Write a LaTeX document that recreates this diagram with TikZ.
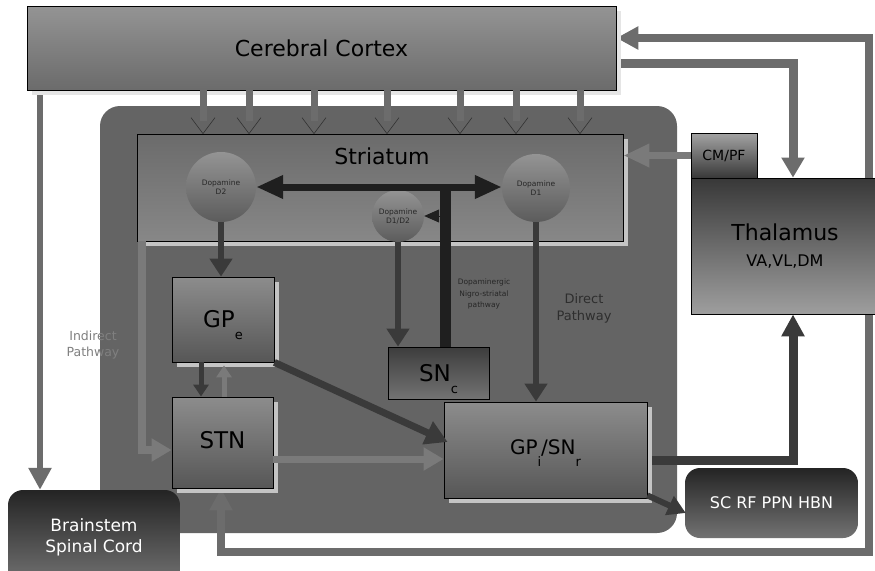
\documentclass[tikz,border=0pt]{standalone}
\usepackage{fontspec}
\setmainfont{DejaVu Sans}
\usetikzlibrary{arrows.meta,shadows,calc}
\pgfdeclarelayer{back}
\pgfdeclarelayer{mid}
\pgfsetlayers{back,mid,main}

\definecolor{panelgray}{HTML}{646464}
\definecolor{shadowgray}{HTML}{C4C4C4}
\definecolor{darkline}{HTML}{3A3A3A}
\definecolor{lightline}{HTML}{7A7A7A}
\definecolor{outerline}{HTML}{6C6C6C}
\definecolor{nearblack}{HTML}{1F1F1F}

\newcommand{\fsz}[2]{\fontsize{#1}{#2}\selectfont}
\newcommand{\lowsub}[1]{\smash{\raisebox{-12pt}{\fsz{13}{13}#1}}}

\begin{document}
\begin{tikzpicture}[x=1pt,y=-1pt,
  graybox/.style={draw=black, line width=0.8pt, inner sep=0pt,
    top color=black!45, bottom color=black!66,
    drop shadow={shadow xshift=5pt, shadow yshift=-5pt, fill=shadowgray, opacity=1}},
  plainbox/.style={draw=black, line width=0.8pt, inner sep=0pt},
  darkround/.style={draw=none, rounded corners=15pt, inner sep=0pt,
    top color=black!86, bottom color=black!55, text=white},
  receptor/.style={circle, draw=none, inner sep=0pt, top color=black!42, bottom color=black!64,
    text=black!85, align=center, font=\fsz{7.5}{9}},
  darkarrow/.style={draw=darkline, line width=6pt, -{Triangle[length=18pt,width=22pt]}},
  smalldark/.style={draw=darkline, line width=5pt, -{Triangle[length=12pt,width=15pt]}},
  lightarrow/.style={draw=lightline, line width=7pt, -{Triangle[length=20pt,width=22pt]}},
  smalllight/.style={draw=lightline, line width=5pt, -{Triangle[length=12pt,width=15pt]}},
  feedline/.style={draw=outerline, line width=8pt, line join=miter},
  vshaft/.style={draw=outerline, line width=7pt},
  vhead/.style={draw=black!80, line width=0.6pt},
  caption/.style={align=center, inner sep=0pt}
]
\useasboundingbox (0,0) rectangle (875,570);

% page and basal ganglia panel
\begin{pgfonlayer}{back}
  \fill[white] (0,0) rectangle (875,570);
  \fill[panelgray, rounded corners=20pt] (100,106) rectangle (677,533);
\end{pgfonlayer}

% cortex and thalamic structures
\node[plainbox, top color=black!42, bottom color=black!58,
  drop shadow={shadow xshift=5pt, shadow yshift=-5pt, fill=black!10, opacity=1},
  minimum width=589pt, minimum height=84pt] (cortex) at (321.5,48) {\fsz{22}{26}Cerebral Cortex};
\node[plainbox, top color=black!78, bottom color=black!38,
  minimum width=188pt, minimum height=136pt, align=center, font=\fsz{16}{26}] (thal) at (785,246)
  {{\fsz{22}{26}Thalamus}\\VA,VL,DM};
\node[plainbox, top color=black!36, bottom color=black!78,
  minimum width=66pt, minimum height=45pt] (cmpf) at (724,155.5) {\fsz{14}{16}CM/PF};

% striatum with its receptor populations
\node[plainbox, top color=black!58, bottom color=black!47,
  drop shadow={shadow xshift=5pt, shadow yshift=-5pt, fill=shadowgray, opacity=1},
  minimum width=486pt, minimum height=107pt] (striatum) at (380,187.5) {};
\node[caption] (striatumlabel) at (382,156) {\fsz{22}{26}Striatum};
\node[receptor, minimum size=70pt] (d2) at (221,187) {Dopamine\\D2};
\node[receptor, minimum size=68pt] (d1) at (536,188) {Dopamine\\D1};
\node[receptor, minimum size=52pt] (d12) at (398,216) {Dopamine\\D1/D2};

% nuclei
\node[graybox, minimum width=102pt, minimum height=85pt] (gpe) at (223,319.5)
  {\fsz{23}{26}GP\lowsub{e}};
\node[graybox, minimum width=101pt, minimum height=91pt] (stn) at (222.5,442.5)
  {\raisebox{5pt}{\fsz{23}{26}STN}};
\node[plainbox, top color=black!76, bottom color=black!55,
  minimum width=101pt, minimum height=52pt] (snc) at (438.5,373)
  {\raisebox{-1pt}{\fsz{23}{26}SN\lowsub{c}}};
\node[graybox, minimum width=203pt, minimum height=96pt] (gpi) at (545.5,450)
  {\raisebox{5pt}{\fsz{20}{24}GP\lowsub{i}/SN\lowsub{r}}};

% output targets
\node[darkround, minimum width=172pt, minimum height=95pt, align=center] (brainstem) at (94,537.5)
  {\raisebox{5pt}{\parbox{150pt}{\centering\fsz{17}{21}Brainstem\\Spinal Cord}}};
\node[darkround, minimum width=173pt, minimum height=70pt] (sc) at (771.5,503)
  {\raisebox{-2pt}{\fsz{16}{19}SC RF PPN HBN}};

% pathway captions
\node[caption, text=black!50, font=\fsz{12.5}{16}] (indirect) at (93,345) {Indirect\\Pathway};
\node[caption, text=black!82, font=\fsz{13}{17}] (direct) at (584,308) {Direct\\Pathway};
\node[caption, text=black!85, font=\fsz{7.5}{11.5}] (nigro) at (484,294)
  {Dopaminergic\\Nigro-striatal\\pathway};

% helper columns and rows for the orthogonal routes
\coordinate (bsx) at (40,0);
\coordinate (thx) at (793,0);
\coordinate (ctrow) at (0,63);
\coordinate (fbl) at (221,552);
\coordinate (fbr) at (869,552);
\coordinate (fbt) at (869,38);
\coordinate (gprow) at (0,460);
\coordinate (barx) at (445,0);
\coordinate (gsx) at (201,0);
\coordinate (sgx) at (224,0);
\coordinate (srow) at (0,459);
\coordinate (inx) at (142,0);
\coordinate (inrow) at (0,450);

% long cortical and thalamic routes, kept behind the boxes
\begin{pgfonlayer}{mid}
  \draw[feedline, line width=6pt, -{Triangle[length=22pt,width=22pt]}]
    (cortex.south -| bsx) -- (bsx |- brainstem.north);
  \draw[feedline, line width=9pt, -{Triangle[length=20pt,width=22pt]}]
    (cortex.east |- ctrow) -| (thx |- thal.north);
  \draw[feedline, {Triangle[length=22pt,width=22pt]}-{Triangle[length=22pt,width=22pt]}]
    (stn.south -| fbl) -- (fbl) -- (fbr) -- (fbt) -- (cortex.east |- fbt);
  \draw[feedline, draw=darkline, line width=9pt, -{Triangle[length=22pt,width=22pt]}]
    (gpi.east |- gprow) -| (thx |- thal.south);
\end{pgfonlayer}

% corticostriatal projections
\foreach \i/\x in {1/203,2/249,3/314,4/387,5/460,6/516,7/580}{
  \coordinate (cs\i) at (\x,0);
  \draw[vshaft] (cortex.south -| cs\i) -- ++(0,31);
  \draw[vhead] ($(striatum.north -| cs\i)+(-12,-16)$) -- (striatum.north -| cs\i) -- ++(12,-16);
}

% thalamostriatal input
\draw[lightarrow, -{Triangle[length=26pt,width=22pt]}] (cmpf.west) -- (striatum.east |- cmpf.west);

% dopaminergic nigro-striatal system
\draw[draw=nearblack, line width=11pt] (snc.north -| barx) -- ($(barx |- d2.east)+(0,-3.5)$);
\draw[draw=nearblack, line width=7pt, {Triangle[length=27pt,width=22pt]}-{Triangle[length=27pt,width=22pt]}]
  (d2.east) -- (d2.east -| d1.west);
\draw[draw=nearblack, line width=1pt, -{Triangle[length=15pt,width=13pt]}] (barx |- d12.east) -- (d12.east);

% striatal outputs
\draw[darkarrow] (d2.south) -- (d2.south |- gpe.north);
\draw[darkarrow] (d12.south) -- (d12.south |- snc.north);
\draw[darkarrow] (d1.south) -- (d1.south |- gpi.north);

% indirect pathway loop
\draw[lightarrow, line width=8pt, line join=miter] (striatum.south -| inx) -- (inx |- inrow) -- (stn.west |- inrow);
\draw[smalldark] (gpe.south -| gsx) -- (stn.north -| gsx);
\draw[smalllight] (stn.north -| sgx) -- ($(gpe.south -| sgx)+(0,3)$);
\draw[darkarrow, line width=7pt, -{Triangle[length=22pt,width=24pt]}] (gpe.south east) -- ($(gpi.west)+(4,-8)$);
\draw[lightarrow] (stn.east |- srow) -- (gpi.west |- srow);

% output to brainstem targets
\draw[darkarrow, line width=6pt, -{Triangle[length=18pt,width=20pt]}] ($(gpi.south east)+(0,-3)$) -- ($(sc.west)+(1,10)$);
\end{tikzpicture}
\end{document}
